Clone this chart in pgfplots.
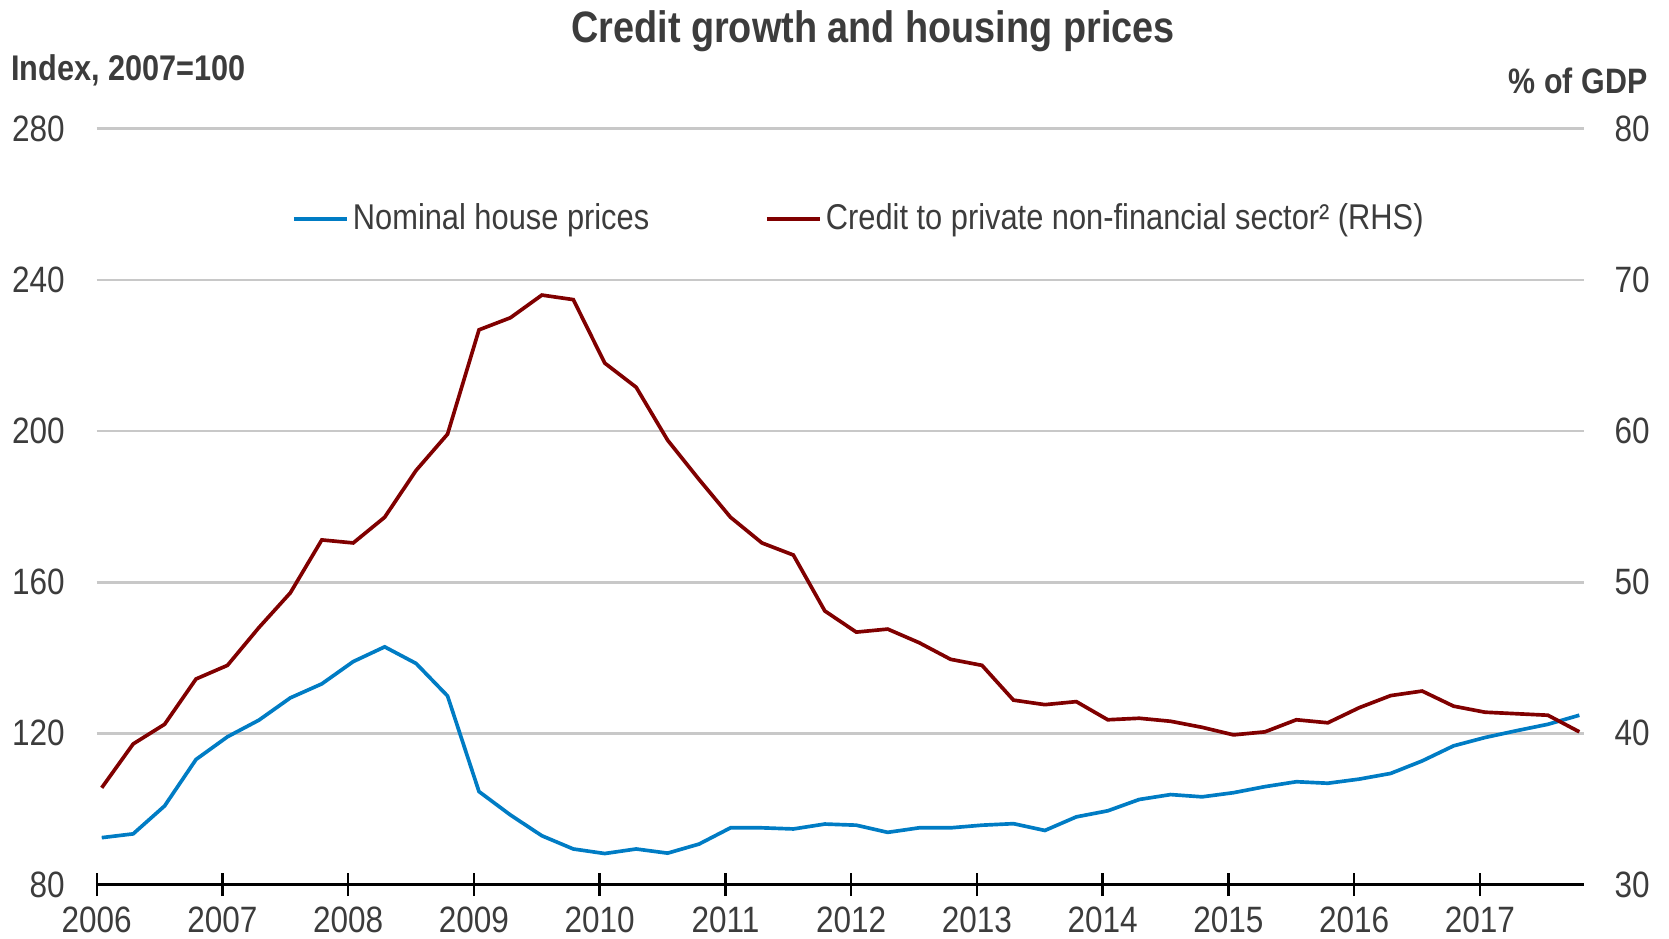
\documentclass[border=0pt]{standalone}
\usepackage{fontspec}
\setmainfont{Liberation Sans}[FakeStretch=0.86]
\usepackage{pgfplots}
\pgfplotsset{compat=1.18}
\usepackage{pgfplotstable}
\definecolor{hblue}{RGB}{0,124,196}
\definecolor{cred}{RGB}{128,0,0}
\definecolor{txt}{RGB}{60,60,60}
\definecolor{gridc}{RGB}{200,200,200}

\pgfplotstableread{
x       house   credit
2006.04 92.4    36.4
2006.29 93.4    39.3
2006.54 100.8   40.6
2006.79 113.1   43.6
2007.04 119.1   44.5
2007.29 123.5   47.0
2007.54 129.4   49.3
2007.79 133.1   52.8
2008.04 139.0   52.6
2008.29 142.9   54.3
2008.54 138.5   57.4
2008.79 129.9   59.8
2009.04 104.6   66.7
2009.29 98.4    67.5
2009.54 92.9    69.0
2009.79 89.4    68.7
2010.04 88.2    64.5
2010.29 89.4    62.9
2010.54 88.3    59.4
2010.79 90.7    56.8
2011.04 95.0    54.3
2011.29 95.0    52.6
2011.54 94.7    51.8
2011.79 96.0    48.1
2012.04 95.7    46.7
2012.29 93.8    46.9
2012.54 95.0    46.0
2012.79 95.0    44.9
2013.04 95.7    44.5
2013.29 96.1    42.2
2013.54 94.3    41.9
2013.79 97.9    42.1
2014.04 99.5    40.9
2014.29 102.5   41.0
2014.54 103.8   40.8
2014.79 103.2   40.4
2015.04 104.3   39.9
2015.29 105.9   40.1
2015.54 107.2   40.9
2015.79 106.8   40.7
2016.04 107.9   41.7
2016.29 109.4   42.5
2016.54 112.7   42.8
2016.79 116.7   41.8
2017.04 118.9   41.4
2017.29 120.7   41.3
2017.54 122.4   41.2
2017.79 124.8   40.1
}\datatable

\newcommand\ticksize{\fontsize{11}{13}\selectfont}

\begin{document}
\begin{tikzpicture}
\pgfplotsset{
  common/.style={
    scale only axis,
    width=446.3pt, height=226.7pt,
    xmin=2006, xmax=2017.83,
    tick label style={font=\ticksize, text=txt},
    /pgf/number format/assume math mode=true,
    /pgf/number format/1000 sep={},
  }
}
\begin{axis}[
  common,
  ymin=80, ymax=280,
  ytick={80,120,...,280},
  axis x line*=bottom,
  axis y line*=left,
  y axis line style={draw=none},
  x axis line style={line width=0.7pt, black},
  ytick style={draw=none},
  ymajorgrids,
  grid style={gridc, line width=0.8pt},
  xtick={2006,...,2017},
  minor x tick num=3,
  xtick align=center,
  major tick length=7pt,
  minor tick length=2.6pt,
  major x tick style={line width=0.7pt, black},
  minor x tick style={line width=0.7pt, black, yshift=1.3pt},
  yticklabel style={inner sep=0pt, anchor=east, xshift=-9.4pt},
  xticklabel style={inner sep=0pt, anchor=north, yshift=-2.9pt},
  legend columns=-1,
  legend style={draw=none, fill=none, at={(0.1308,0.881)}, anchor=west,
    font=\fontsize{10.75}{12}\selectfont, text=txt, inner sep=0pt,
    nodes={inner xsep=1.2pt},
    /tikz/every even column/.append style={column sep=33.5pt}},
  legend image code/.code={\draw[#1] (0pt,0pt) -- (16pt,0pt);},
]
\addplot[hblue, line width=1.1pt] table[x=x, y=house] {\datatable};
\addlegendentry{Nominal house prices}
\addlegendimage{cred, line width=1.1pt}
\addlegendentry{Credit to private non-financial sector² (RHS)}
\end{axis}
\begin{axis}[
  common,
  ymin=30, ymax=80,
  ytick={30,40,...,80},
  axis y line*=right,
  axis x line=none,
  y axis line style={draw=none},
  ytick style={draw=none},
  yticklabel style={inner sep=0pt, anchor=west, xshift=8.9pt},
]
\addplot[cred, line width=1.1pt] table[x=x, y=credit] {\datatable};
\end{axis}
\node[anchor=base, font=\bfseries\fontsize{13.2}{16}\selectfont, text=txt, inner sep=0pt] at (232.9pt,252.6pt) {Credit growth and housing prices};
\node[anchor=base west, font=\bfseries\fontsize{10.7}{13}\selectfont, text=txt, inner sep=0pt] at (-25.9pt,241.2pt) {Index, 2007=100};
\node[anchor=base east, font=\bfseries\fontsize{10.6}{13}\selectfont, text=txt, inner sep=0pt] at (465.4pt,237.4pt) {\% of GDP};
\pgfresetboundingbox
\path[use as bounding box] (-29.01pt,-16.05pt) rectangle (471.69pt,265.35pt);
\end{tikzpicture}
\end{document}
